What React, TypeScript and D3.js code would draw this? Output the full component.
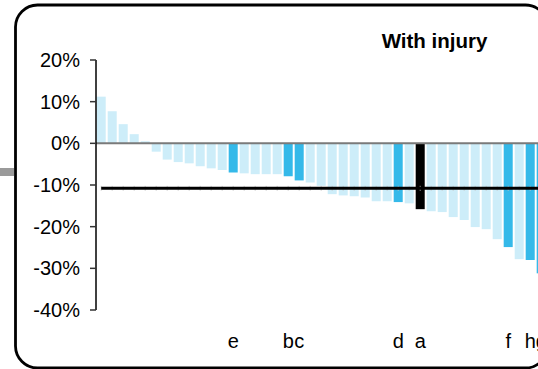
import React from "react";
import * as d3 from "d3";

const values: number[] = [
  11.2, 7.7, 4.6, 2.2, 0.5, -2.0, -3.9, -4.5, -4.8, -5.5, -6.0, -6.4, -7.0, -7.2,
  -7.4, -7.4, -7.4, -7.9, -8.9, -9.4, -10.2, -12.2, -12.5, -12.7, -13.0, -13.9,
  -13.9, -14.1, -14.4, -15.8, -16.3, -16.5, -17.7, -18.4, -20.1, -20.6, -23.0,
  -24.9, -27.8, -28.0, -31.2,
];
const kinds: string[] = values.map(() => "light");
const darkIdx: number[] = [12, 17, 18, 27, 37, 39, 40];
const blackIdx: number[] = [29];
const labelIdx: number[] = [12, 17, 18, 27, 29, 37, 39, 40];
const labelText: string[] = ["e", "b", "c", "d", "a", "f", "h", "g"];
const yTicks: number[] = [20, 10, 0, -10, -20, -30, -40];
const refValue = -10.8;
const title = "With injury";

darkIdx.forEach((i) => (kinds[i] = "dark"));
blackIdx.forEach((i) => (kinds[i] = "black"));

const colors: Record<string, string> = {
  light: "#CDEDF9",
  dark: "#35B9E9",
  black: "#000000",
};

const W = 538;
const H = 369;
const font = "'Liberation Sans', Arial, sans-serif";

export default function App() {
  const n = values.length;
  const x = d3
    .scaleBand<number>()
    .domain(d3.range(n))
    .range([95.7, 95.7 + 11 * n])
    .paddingInner(0.18)
    .paddingOuter(0.09);
  const y = d3.scaleLinear().domain([-40, 20]).range([310, 60]);
  const y0 = y(0);
  const bw = x.bandwidth();
  const firstC = (x(0) as number) + bw / 2;
  const lastC = (x(n - 1) as number) + bw / 2;

  return (
    <svg
      width={W}
      height={H}
      style={{ position: "absolute", left: 0, top: 0, background: "#fff" }}
      fontFamily={font}
    >
      {/* stray gray mark at left */}
      <rect x={0} y={168} width={14} height={8} fill="#9a9a9a" />
      {/* frame */}
      <rect
        x={15.5}
        y={5}
        width={532}
        height={363}
        rx={22}
        ry={22}
        fill="#fff"
        stroke="#000"
        strokeWidth={2.8}
      />
      {/* bars */}
      {values.map((v, i) => (
        <rect
          key={i}
          x={x(i)}
          y={Math.min(y(v), y0)}
          width={bw}
          height={Math.abs(y(v) - y0)}
          fill={colors[kinds[i]]}
        />
      ))}
      {/* zero line */}
      <line x1={96} x2={W} y1={y0} y2={y0} stroke="#7a7a7a" strokeWidth={2} />
      {/* reference line with faint ticks */}
      {values.map((_, i) => {
        const cx = (x(i) as number) + bw / 2;
        return (
          <line
            key={"t" + i}
            x1={cx}
            x2={cx}
            y1={y(refValue) - 2.5}
            y2={y(refValue) + 2.5}
            stroke="#c8c8c8"
            strokeWidth={0.8}
          />
        );
      })}
      <line
        x1={firstC}
        x2={lastC + 20}
        y1={y(refValue)}
        y2={y(refValue)}
        stroke="#000"
        strokeWidth={3}
      />
      {/* y axis */}
      <line x1={96} x2={96} y1={y(20)} y2={y(-40)} stroke="#000" strokeWidth={1.5} />
      {yTicks.map((t) => (
        <g key={t}>
          <line x1={90} x2={96} y1={y(t)} y2={y(t)} stroke="#333" strokeWidth={1.5} />
          <text
            x={80}
            y={y(t) + 7}
            textAnchor="end"
            fontSize={20}
            fill="#000"
          >
            {`${t}%`}
          </text>
        </g>
      ))}
      {/* category labels */}
      {labelIdx.map((i, k) => (
        <text
          key={"l" + i}
          x={(x(i) as number) + bw / 2}
          y={348}
          textAnchor="middle"
          fontSize={20}
          fill="#000"
        >
          {labelText[k]}
        </text>
      ))}
      {/* title */}
      <text
        x={434.5}
        y={48}
        textAnchor="middle"
        fontSize={20.5}
        fontWeight="bold"
        fill="#000"
      >
        {title}
      </text>
    </svg>
  );
}
